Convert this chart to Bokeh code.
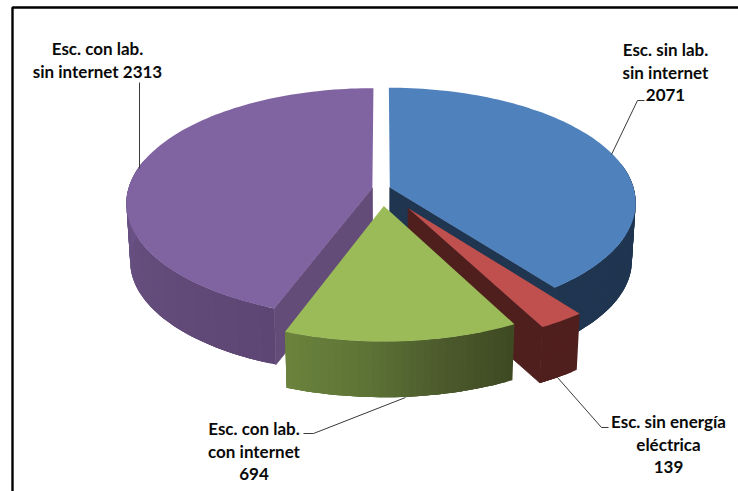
import numpy as np
from bokeh.embed import file_html
from bokeh.models import Range1d
from bokeh.plotting import figure
from bokeh.resources import INLINE
from bokeh.core.properties import value

# Number of schools per category, clockwise from twelve o'clock
categories = ["Esc. sin lab. sin internet", "Esc. sin energía eléctrica",
              "Esc. con lab. con internet", "Esc. con lab. sin internet"]
schools = [2071, 139, 694, 2313]

# Radial pull of each slice, as a share of the radius
explode = [0.036, 0.20, 0.15, 0.038]

top_colors = ["#4F81BD", "#C0504D", "#9BBB59", "#8064A2"]
inner_colors = ["#1F3550", "#4F1F1E", None, "#634C78"]
# Rim shading from the start of the slice's arc to its end
rim_stops = [["#1F3550", "#1F3550"],
             ["#4F1F1E", "#4F1F1E"],
             ["#3F4A23", "#4C5B2C", "#5E7436", "#6A823C"],
             ["#5D4673", "#644D7C", "#6B5387", "#6F568D", "#735A92"]]

label_lines = [["Esc. sin lab.", "sin internet", "2071"],
               ["Esc. sin energía", "eléctrica", "139"],
               ["Esc. con lab.", "con internet", "694"],
               ["Esc. con lab.", "sin internet 2313"]]
label_x = [665, 668, 253.5, 97]
label_y = [49, 421, 428, 48]
line_step = 22.7

leaders = [([644, 637, 611], [100, 100, 154]),
           ([608, 601, 557], [427, 427, 377]),
           ([303, 313, 405], [433, 433, 397]),
           ([139, 139], [82, 168])]

# Perspective model of the disc on screen
CX, CY, A, B, K = 381.0, 188.2, 244.0, 113.0, 0.1304
DEPTH, BASE_SCALE = 58.0, 0.985


def project(x, y, base=False):
    d = 1 - K * y
    sx = CX + A * x / d
    sy = CY + B * y / d
    if base:
        sx = CX + (sx - CX) * BASE_SCALE
        sy = CY + (sy - CY) * BASE_SCALE + DEPTH
    return sx, sy


def hex_rgb(c):
    return np.array([int(c[i:i + 2], 16) for i in (1, 3, 5)], dtype=float)


def shade(stops, f):
    pos = f * (len(stops) - 1)
    i = min(int(pos), len(stops) - 2)
    t = pos - i
    rgb = hex_rgb(stops[i]) * (1 - t) + hex_rgb(stops[i + 1]) * t
    return "#%02x%02x%02x" % tuple(int(round(v)) for v in rgb)


p = figure(width=738, height=491, output_backend="svg", toolbar_location=None,
           x_range=Range1d(0, 738), y_range=Range1d(491, 0),
           min_border=0, outline_line_color=None, background_fill_color="white")
p.axis.visible = False
p.grid.visible = False

edges = np.cumsum([0] + schools) / sum(schools) * 2 * np.pi

# Back slices first so the pulled-out front slices overlap them
for i in [3, 0, 1, 2]:
    a0, a1 = edges[i], edges[i + 1]
    mid = (a0 + a1) / 2
    ex, ey = explode[i] * np.sin(mid), -explode[i] * np.cos(mid)
    th = np.linspace(a0, a1, int(np.degrees(a1 - a0) / 1.5) + 2)
    rx, ry = ex + np.sin(th), ey - np.cos(th)
    tx, ty = project(rx, ry)
    bx, by = project(rx, ry, base=True)
    ax, ay = project(ex, ey)
    abx, aby = project(ex, ey, base=True)

    # Rim bands, each one running under the next so no seams show;
    # the part of the rim turned away from the viewer is left out
    xs, ys, cols = [], [], []
    last = len(th) - 1
    for n in range(last):
        if (ry[n] - ey) < -0.2 and (ry[n + 1] - ey) < -0.2:
            continue
        m = min(n + 3, last)
        xs.append([*tx[n:m + 1], *bx[n:m + 1][::-1]])
        ys.append([*ty[n:m + 1], *by[n:m + 1][::-1]])
        cols.append(shade(rim_stops[i], n / max(last - 1, 1)))
    p.patches(xs, ys, fill_color=cols, line_color=None)

    # Cut face towards the viewer, stroked to close the joint with the rim
    if inner_colors[i]:
        j = 0 if i == 3 else -1
        p.patch([ax, tx[j], bx[j], abx], [ay, ty[j], by[j], aby],
                fill_color=inner_colors[i], line_color=inner_colors[i], line_width=0.8)

    # Top face
    p.patch(np.r_[ax, tx], np.r_[ay, ty], fill_color=top_colors[i], line_color=None)

for lx, ly in leaders:
    p.line(lx, ly, line_color="#3A3A3A", line_width=1)

for lines, x, y in zip(label_lines, label_x, label_y):
    p.text([x] * len(lines), [y + n * line_step for n in range(len(lines))], text=lines,
           text_font=value("Lato"), text_font_style="bold", text_font_size="17px",
           text_color="#0A0A0A", text_align="center", text_baseline="middle")

# Frame along the left and top of the figure
p.line([12, 12, 738], [491, 7, 7], line_color="black", line_width=2.4)

open("out.html", "w").write(file_html(p, INLINE))
